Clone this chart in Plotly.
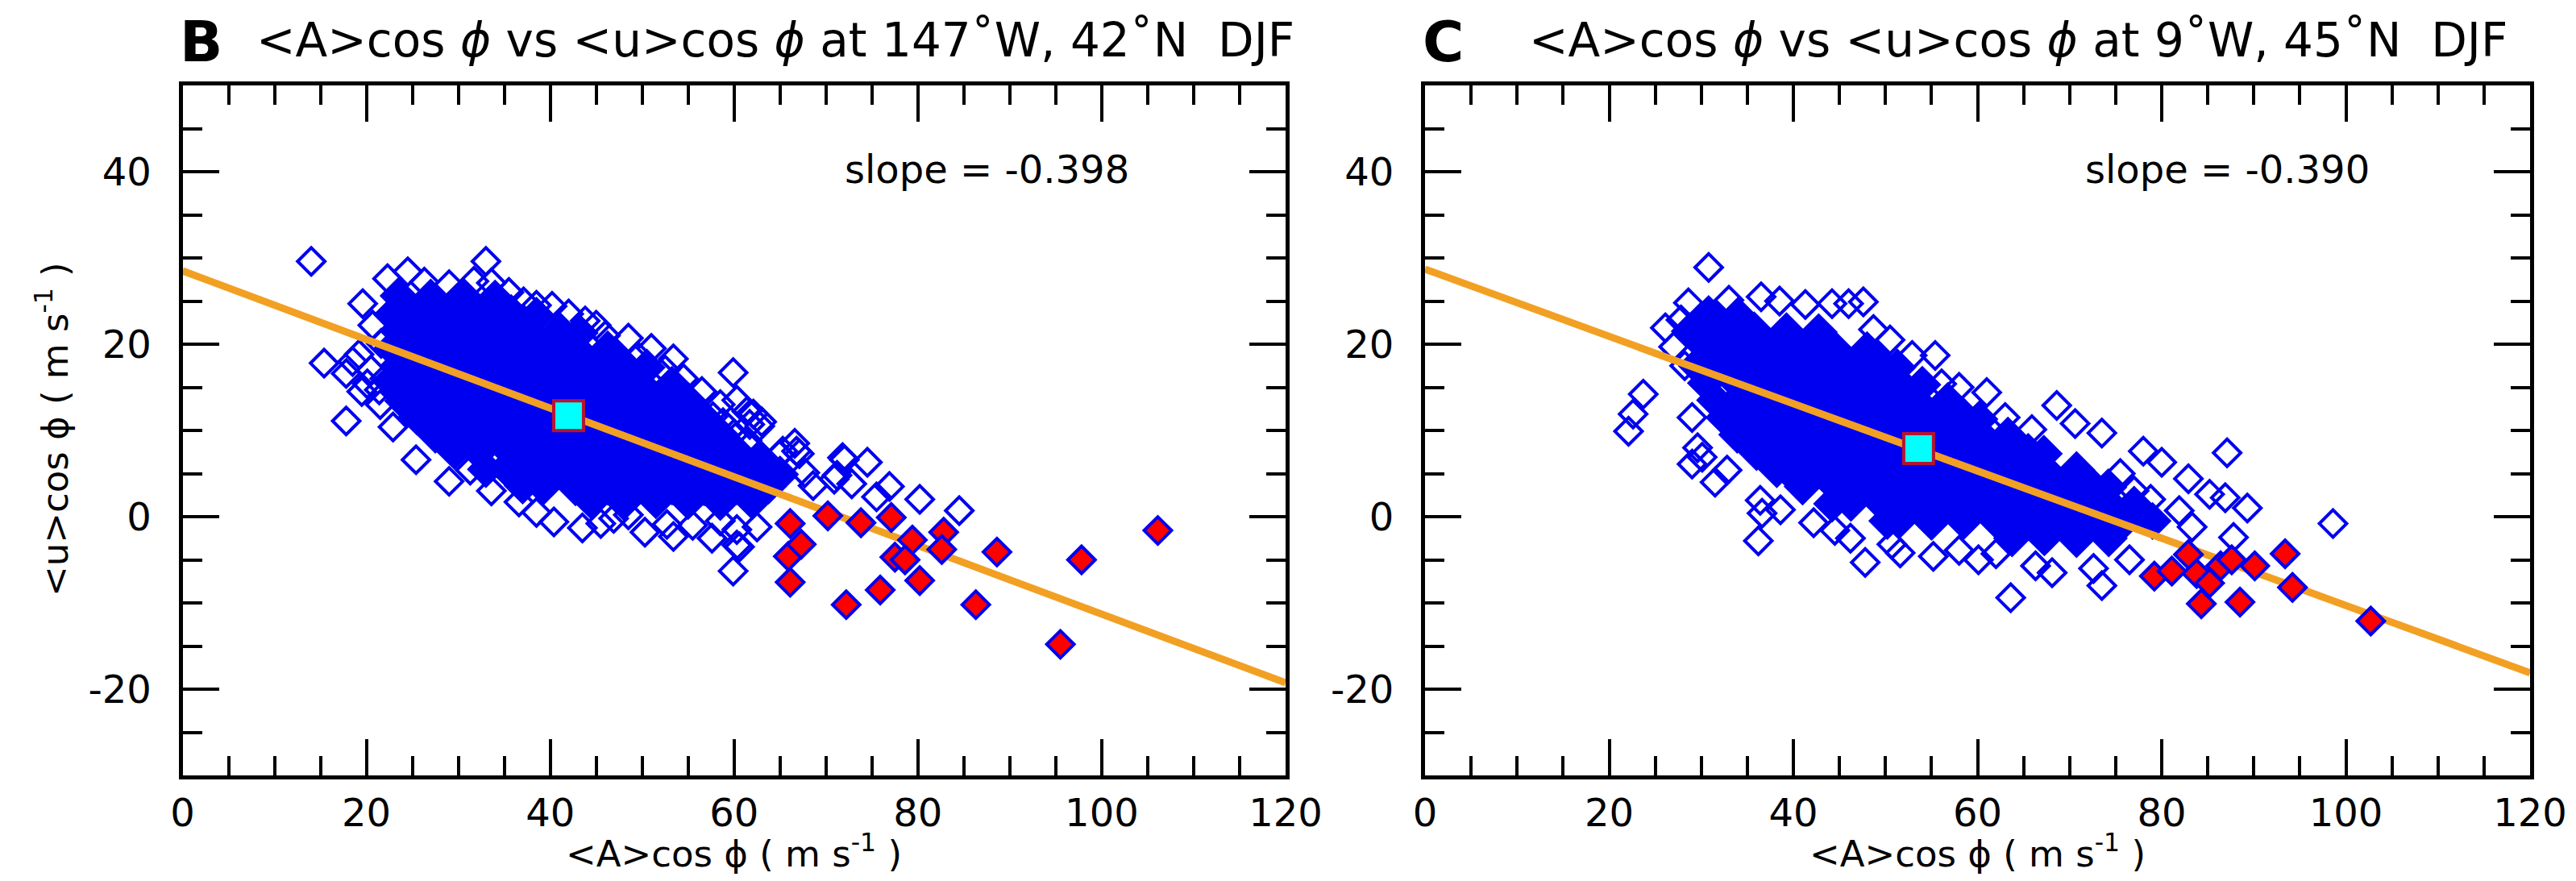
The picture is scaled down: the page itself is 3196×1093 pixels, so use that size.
import plotly.graph_objects as go

# ---------------- data ----------------
# Panel B : 147W, 42N  DJF  -- dense core of the point cloud
b_core_x = [23.5, 27.0, 30.5, 34.0,
            22.8, 25.25, 28.75, 32.25, 35.75, 38.5,
            23.5, 27.0, 30.5, 34.0, 37.5, 41.0, 43.2,
            22.8, 25.25, 28.75, 32.25, 35.75, 39.25, 42.75, 46.25,
            23.5, 27.0, 30.5, 34.0, 37.5, 41.0, 44.5, 48.0, 50.5,
            22.8, 25.25, 28.75, 32.25, 35.75, 39.25, 42.75, 46.25, 49.75, 53.25,
            24.0, 27.0, 30.5, 34.0, 37.5, 41.0, 44.5, 48.0, 51.5, 55.0,
            25.5, 28.75, 32.25, 35.75, 39.25, 42.75, 46.25, 49.75, 53.25, 56.75,
            27.5, 30.5, 34.0, 37.5, 41.0, 44.5, 48.0, 51.5, 55.0, 58.5,
            29.6, 32.25, 35.75, 39.25, 42.75, 46.25, 49.75, 53.25, 56.75, 60.25, 63.0,
            33.0, 35.2, 37.5, 41.0, 44.5, 48.0, 51.5, 55.0, 58.5, 62.0, 65.0,
            37.0, 39.25, 42.75, 46.25, 49.75, 53.25, 56.75, 60.25, 63.75,
            44.5, 48.0, 51.5, 55.0, 58.5, 62.0]
b_core_y = [25.6, 25.4, 25.6, 25.3,
            23.4, 23.6, 23.4, 23.5, 23.6, 23.3,
            21.5, 21.4, 21.6, 21.5, 21.4, 21.6, 21.3,
            19.5, 19.6, 19.4, 19.5, 19.6, 19.4, 19.5, 19.4,
            17.5, 17.6, 17.4, 17.5, 17.6, 17.5, 17.4, 17.6, 17.3,
            15.6, 15.5, 15.4, 15.6, 15.5, 15.4, 15.5, 15.6, 15.4, 15.3,
            13.4, 13.5, 13.6, 13.4, 13.5, 13.6, 13.5, 13.4, 13.5, 13.4,
            11.6, 11.5, 11.4, 11.6, 11.5, 11.4, 11.5, 11.6, 11.5, 11.4,
            9.5, 9.6, 9.4, 9.5, 9.6, 9.5, 9.4, 9.5, 9.6, 9.5,
            7.6, 7.5, 7.4, 7.5, 7.6, 7.5, 7.4, 7.5, 7.6, 7.5, 6.6,
            5.5, 5.6, 5.4, 5.6, 5.5, 5.4, 5.5, 5.6, 5.5, 5.4, 4.9,
            3.6, 3.5, 3.4, 3.5, 3.6, 3.5, 3.4, 3.5, 3.6,
            1.8, 1.7, 1.9, 1.8, 1.7, 1.8]

# Panel B -- individually visible open diamonds
b_open_x = [14.0, 33.0, 22.3, 24.5, 26.3, 29.0, 31.7, 33.6, 19.6, 20.7, 21.6, 37.1, 40.2, 43.8,
            46.0, 48.5, 49.6, 53.4, 35.5, 38.5, 42.0, 45.0, 51.0, 52.5, 54.5, 56.5, 58.5, 55.4,
            59.9, 57.7, 61.7, 63.0, 62.1, 61.2, 65.0, 66.8, 66.6, 60.3, 61.4, 62.8, 61.4, 65.3,
            67.1, 67.7, 72.0, 74.5, 71.2, 72.8, 76.9, 75.5, 80.2, 84.5, 63.8, 68.6, 70.9, 71.8,
            15.4, 19.2, 17.8, 20.1, 21.4, 18.5, 20.5, 19.5, 21.5, 22.0, 17.8, 22.9, 25.4, 29.0,
            31.3, 33.6, 36.6, 38.5, 40.4, 43.5, 45.5, 46.9, 48.5, 50.3, 52.7, 53.4, 55.5, 57.6,
            58.5, 60.6, 62.5, 59.9, 60.3, 60.3, 58.8, 60.0]
b_open_y = [29.6, 29.6, 27.6, 28.4, 27.2, 26.9, 27.3, 27.1, 24.7, 22.2, 20.1, 24.9, 24.4, 22.7,
            21.0, 20.7, 18.5, 18.3, 26.0, 24.5, 23.5, 22.2, 19.5, 17.0, 16.0, 14.5, 13.0, 13.2,
            16.7, 11.6, 10.7, 11.0, 11.9, 8.6, 7.2, 7.6, 8.5, 13.5, 12.2, 10.5, 8.8, 7.6,
            7.3, 5.1, 6.6, 6.3, 4.8, 3.8, 3.5, 2.3, 2.0, 0.7, 5.4, 3.6, 4.35, 6.85,
            17.8, 18.8, 16.6, 15.4, 14.7, 18.0, 17.0, 14.5, 13.0, 16.0, 11.1, 10.4, 6.6, 4.1,
            5.4, 3.0, 1.7, 0.5, -0.6, -1.3, -0.8, -0.2, 0.2, -1.8, -0.9, -2.3, -1.0, -2.5,
            -0.5, -3.5, -1.2, -6.3, -1.5, -3.3, 10.9, 9.6]

b_red_x = [66.1, 70.2, 73.8, 77.1, 82.8, 79.4, 82.6, 77.5, 78.6, 65.9,
           67.3, 66.1, 80.2, 75.9, 72.2, 88.6, 97.8, 106.1, 86.3, 95.5]
b_red_y = [-0.8, 0.1, -0.7, -0.1, -1.8, -2.7, -3.8, -4.7, -5.0, -4.6,
           -3.2, -7.6, -7.4, -8.5, -10.2, -4.1, -5.0, -1.6, -10.2, -14.8]

b_mean_x = [42.0]
b_mean_y = [11.7]
b_fit_x = [0, 120]
b_fit_y = [28.5, -19.26]
b_slope = "slope = -0.398"
b_title = ("&lt;A&gt;cos <i>\u03d5</i> vs &lt;u&gt;cos <i>\u03d5</i> at 147\u02daW, "
           "42\u02daN\u00a0\u00a0DJF")

# Panel C : 9W, 45N  DJF -- dense core
c_core_x = [30.8, 34.0,
            28.75, 32.25, 35.75, 39.25, 42.75,
            30.5, 34.0, 37.5, 41.0, 44.5, 48.0,
            29.5, 32.25, 35.75, 39.25, 42.75, 46.25, 49.75, 51.3,
            30.5, 34.0, 37.5, 41.0, 44.5, 48.0, 51.5, 54.0,
            31.5, 33.8, 35.75, 39.25, 42.75, 46.25, 49.75, 53.25, 56.75,
            32.5, 34.0, 37.5, 41.0, 44.5, 48.0, 51.5, 55.0, 58.5, 60.2,
            33.9, 35.75, 39.25, 42.75, 46.25, 49.75, 53.25, 56.75, 60.25, 63.3,
            36.0, 37.5, 41.0, 44.5, 48.0, 51.5, 55.0, 58.5, 62.0, 65.5, 67.2,
            38.2, 39.25, 42.75, 46.25, 49.75, 53.25, 56.75, 60.25, 63.75, 67.25, 70.75,
            41.0, 44.5, 48.0, 51.5, 55.0, 58.5, 62.0, 65.5, 69.0, 72.5, 74.2,
            44.2, 46.25, 49.75, 53.25, 56.75, 60.25, 63.75, 67.25, 70.75, 74.25, 77.0,
            50.2, 51.5, 55.0, 58.5, 62.0, 65.5, 69.0, 72.5, 76.0, 79.0,
            63.75, 67.25, 70.75, 74.25]
c_core_y = [23.5, 23.3,
            21.5, 21.4, 21.6, 21.5, 21.4,
            19.6, 19.4, 19.5, 19.6, 19.4, 19.3,
            17.5, 17.6, 17.4, 17.5, 17.6, 17.5, 17.4, 17.3,
            15.5, 15.4, 15.6, 15.5, 15.4, 15.6, 15.5, 15.3,
            13.5, 13.4, 13.6, 13.5, 13.4, 13.5, 13.6, 13.5, 13.4,
            11.5, 11.6, 11.4, 11.5, 11.6, 11.5, 11.4, 11.5, 11.6, 11.3,
            9.5, 9.6, 9.4, 9.5, 9.6, 9.5, 9.4, 9.5, 9.6, 9.4,
            7.5, 7.4, 7.6, 7.5, 7.4, 7.5, 7.6, 7.5, 7.4, 7.5, 7.3,
            5.5, 5.6, 5.4, 5.5, 5.6, 5.5, 5.4, 5.5, 5.6, 5.5, 5.4,
            3.5, 3.6, 3.4, 3.5, 3.6, 3.5, 3.4, 3.5, 3.6, 3.5, 3.4,
            1.5, 1.6, 1.4, 1.5, 1.6, 1.5, 1.4, 1.5, 1.6, 1.5, 1.4,
            -0.5, -0.4, -0.6, -0.5, -0.4, -0.5, -0.6, -0.5, -0.4, -0.5,
            -2.5, -2.4, -2.6, -2.5]

c_open_x = [30.8, 26.1, 27.0, 27.8, 28.2, 28.6, 23.7, 22.6, 22.1, 29.0, 29.0, 30.1, 31.5, 32.8,
            29.6, 36.6, 36.4, 38.6, 36.2, 42.2, 44.5, 46.2, 47.8, 50.7, 51.6, 55.2, 58.0, 60.1,
            63.6, 66.3, 68.1, 72.6, 73.5, 76.5, 62.0,
            33.0, 36.5, 38.5, 41.3, 44.2, 46.0, 47.6, 48.7, 50.5, 52.9, 55.4, 56.1, 58.0, 61.0,
            63.0, 65.9, 68.6, 70.6, 73.5, 75.5, 77.0, 78.0, 80.0, 82.9, 87.1, 83.3, 87.8, 86.9,
            98.6, 85.2, 89.3, 78.8, 81.9]
c_open_y = [28.9, 21.9, 19.7, 22.8, 17.5, 24.8, 14.2, 11.9, 9.9, 11.5, 6.1, 6.9, 4.0, 5.4,
            8.0, 0.4, 1.9, 0.8, -2.8, -0.7, -1.6, -2.5, -5.3, -3.2, -4.2, -4.6, -3.9, -5.0,
            -9.4, -5.7, -6.5, -6.0, -8.0, -5.0, -4.3,
            25.1, 25.5, 25.0, 24.6, 24.7, 24.7, 24.9, 21.7, 20.5, 18.7, 18.7, 15.4, 15.0, 14.4,
            11.5, 10.1, 12.9, 10.8, 9.7, 5.0, 3.0, 7.6, 6.3, 4.4, 7.4, -1.2, -2.4, 2.2,
            -0.8, 2.6, 1.0, 2.0, 0.7]

c_red_x = [79.2, 81.1, 82.9, 83.8, 84.3, 85.2, 86.4, 87.6, 88.5, 90.1, 93.4, 94.2, 102.7]
c_red_y = [-6.9, -6.3, -4.4, -6.6, -10.1, -7.7, -5.7, -5.0, -9.9, -5.7, -4.3, -8.2, -12.1]

c_mean_x = [53.6]
c_mean_y = [7.9]
c_fit_x = [0, 120]
c_fit_y = [28.7, -18.1]
c_slope = "slope = -0.390"
c_title = ("&lt;A&gt;cos <i>\u03d5</i> vs &lt;u&gt;cos <i>\u03d5</i> at 9\u02daW, "
           "45\u02daN\u00a0\u00a0DJF")

x_ticks = [0, 20, 40, 60, 80, 100, 120]
y_ticks = [-20, 0, 20, 40]
y_ticktext = ["-20", "0", "20", "40"]
x_label = "&lt;A&gt;cos \u03d5 ( m s<sup>-1</sup> )"
y_label = "&lt;u&gt;cos \u03d5 ( m s<sup>-1</sup> )"

# ---------------- styling ----------------
OFF = 8                      # default page body margin
FW, FH = 3196 - 2 * OFF, 1093 - 2 * OFF
FONT = "DejaVu Sans"
BLUE = "rgb(0,0,240)"
RED = "rgb(255,0,0)"
ORANGE = "rgb(242,160,35)"
CYAN = "rgb(0,255,255)"
DARKRED = "rgb(180,20,50)"


def px(X):
    return (X - OFF) / FW


def py(Y):
    return 1 - (Y - OFF) / FH


xdomB = [px(226.5), px(1595)]
xdomC = [px(1768), px(3139)]
ydom = [py(962), py(106)]

fig = go.Figure()


def add_panel(xa, ya, core_x, core_y, open_x, open_y, red_x, red_y, mx, my, fx, fy):
    fig.add_trace(go.Scatter(x=core_x, y=core_y, mode="markers", xaxis=xa, yaxis=ya,
                             marker=dict(symbol="diamond", size=32, color=BLUE,
                                         line=dict(color=BLUE, width=4)),
                             showlegend=False, hoverinfo="skip"))
    fig.add_trace(go.Scatter(x=open_x, y=open_y, mode="markers", xaxis=xa, yaxis=ya,
                             marker=dict(symbol="diamond-open", size=26, color=BLUE,
                                         line=dict(color=BLUE, width=4)),
                             showlegend=False))
    fig.add_trace(go.Scatter(x=fx, y=fy, mode="lines", xaxis=xa, yaxis=ya,
                             line=dict(color=ORANGE, width=9), showlegend=False))
    fig.add_trace(go.Scatter(x=red_x, y=red_y, mode="markers", xaxis=xa, yaxis=ya,
                             marker=dict(symbol="diamond", size=26, color=RED,
                                         line=dict(color=BLUE, width=4)),
                             showlegend=False))
    fig.add_trace(go.Scatter(x=mx, y=my, mode="markers", xaxis=xa, yaxis=ya,
                             marker=dict(symbol="square", size=37, color=CYAN,
                                         line=dict(color=DARKRED, width=4)),
                             showlegend=False))


add_panel("x", "y", b_core_x, b_core_y, b_open_x, b_open_y, b_red_x, b_red_y,
          b_mean_x, b_mean_y, b_fit_x, b_fit_y)
add_panel("x2", "y2", c_core_x, c_core_y, c_open_x, c_open_y, c_red_x, c_red_y,
          c_mean_x, c_mean_y, c_fit_x, c_fit_y)

common = dict(showline=True, linewidth=5, linecolor="black", mirror="allticks",
              ticks="inside", tickwidth=4, tickcolor="black", ticklen=45,
              showgrid=False, zeroline=False, automargin=False,
              tickfont=dict(family=FONT, size=48, color="black"))
minor = dict(dtick=5, tick0=0, ticks="inside", ticklen=24, tickwidth=4,
             tickcolor="black", showgrid=False)


def xax(dom, anchor):
    return dict(common, domain=dom, anchor=anchor, range=[0, 120], tickvals=x_ticks,
                minor=minor)


def yax(anchor):
    return dict(common, domain=ydom, anchor=anchor, range=[-30, 50], tickvals=y_ticks,
                ticktext=y_ticktext, ticklabelstandoff=24, minor=minor)


fig.update_layout(
    width=FW, height=FH, margin=dict(l=0, r=0, t=0, b=0, autoexpand=False),
    paper_bgcolor="white", plot_bgcolor="white",
    xaxis=xax(xdomB, "y"), yaxis=yax("x"),
    xaxis2=xax(xdomC, "y2"), yaxis2=yax("x2"),
    showlegend=False,
)

ann = []
for letter, lx, title, tx in [("B", 221, b_title, 316), ("C", 1763, c_title, 1895)]:
    ann.append(dict(text="<b>" + letter + "</b>", xref="paper", yref="paper",
                    x=px(lx), y=py(52), xanchor="left", yanchor="middle",
                    showarrow=False, font=dict(family=FONT, size=70, color="black")))
    ann.append(dict(text=title, xref="paper", yref="paper",
                    x=px(tx), y=py(50), xanchor="left", yanchor="middle",
                    showarrow=False, font=dict(family=FONT, size=58, color="black")))
ann.append(dict(text=b_slope, xref="x", yref="y", x=103.2, y=40.3, xanchor="right",
                yanchor="middle", showarrow=False, font=dict(family=FONT, size=48, color="black")))
ann.append(dict(text=c_slope, xref="x2", yref="y2", x=102.8, y=40.3, xanchor="right",
                yanchor="middle", showarrow=False, font=dict(family=FONT, size=48, color="black")))
for xr in ["x", "x2"]:
    ann.append(dict(text=x_label, xref=xr, yref="paper", x=60, y=py(1056),
                    xanchor="center", yanchor="middle", showarrow=False,
                    font=dict(family=FONT, size=45, color="black")))
ann.append(dict(text=y_label, xref="paper", yref="paper", x=px(65), y=py(533),
                xanchor="center", yanchor="middle", textangle=-90, showarrow=False,
                font=dict(family=FONT, size=45, color="black")))
fig.update_layout(annotations=ann)

fig.write_html("out.html")
